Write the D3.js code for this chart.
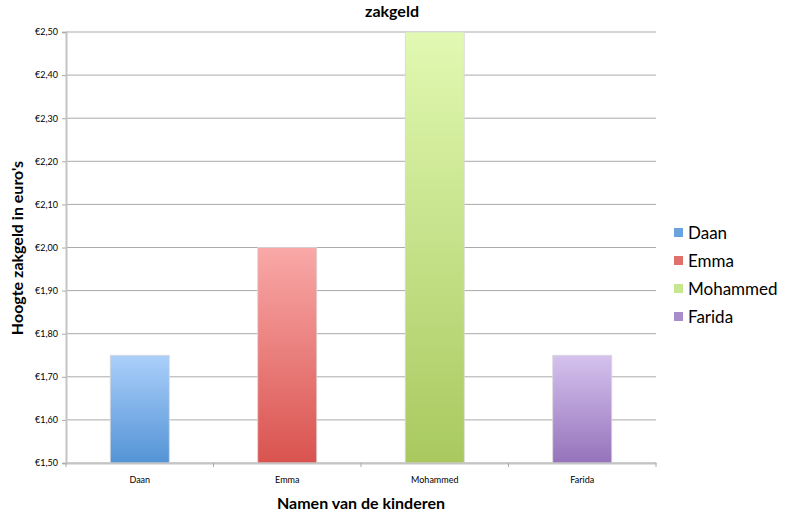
<!DOCTYPE html>
<html><head><meta charset="utf-8">
<script src="https://cdn.jsdelivr.net/npm/d3@7"></script>
<style>body{margin:0;background:#fff;} text{font-family:Lato, "Liberation Sans", sans-serif;}</style>
</head><body>
<svg id="chart" width="786" height="518"></svg>
<script>
const categories = ["Daan", "Emma", "Mohammed", "Farida"];
const values = [1.75, 2.00, 2.50, 1.75];
const yTicks = [1.5, 1.6, 1.7, 1.8, 1.9, 2.0, 2.1, 2.2, 2.3, 2.4, 2.5];
const topColors = ["#abcffa", "#f9a9a8", "#e1f9b2", "#d5c2ee"];
const bottomColors = ["#5394d6", "#d9534f", "#a9c95f", "#9573bb"];
const legendColors = ["#6aa3e0", "#e0706c", "#c6e78e", "#a98ccc"];

const svg = d3.select("#chart");
const m = {left: 66, right: 656, top: 32, bottom: 463};
const x = d3.scaleBand().domain(categories).range([m.left, m.right]).paddingInner(0.6).paddingOuter(0.3);
const xb = d3.scaleBand().domain(categories).range([m.left, m.right]);
const y = d3.scaleLinear().domain([1.5, 2.5]).range([m.bottom, m.top]);
const fmt = v => "€" + v.toFixed(2).replace(".", ",");

const defs = svg.append("defs");
categories.forEach((c, i) => {
  const g = defs.append("linearGradient").attr("id", "g" + i).attr("x1", 0).attr("y1", 0).attr("x2", 0).attr("y2", 1);
  g.append("stop").attr("offset", "0%").attr("stop-color", topColors[i]);
  g.append("stop").attr("offset", "100%").attr("stop-color", bottomColors[i]);
});

// gridlines
svg.append("g").selectAll("line").data(yTicks).join("line")
  .attr("x1", m.left).attr("x2", m.right)
  .attr("y1", d => y(d)).attr("y2", d => y(d))
  .attr("stroke", "#ababab").attr("stroke-width", 1);

// y axis
const yAxis = svg.append("g").attr("transform", `translate(${m.left},0)`)
  .call(d3.axisLeft(y).tickValues(yTicks).tickFormat(fmt).tickSize(4).tickPadding(4));
yAxis.select(".domain").attr("stroke", "#c4c4c4").attr("stroke-width", 2);
yAxis.selectAll(".tick line").attr("stroke", "#ababab");
yAxis.selectAll("text").attr("font-size", 9).attr("fill", "#000");

// bars
svg.append("g").selectAll("rect").data(values).join("rect")
  .attr("x", (d, i) => x(categories[i])).attr("width", x.bandwidth())
  .attr("y", d => y(d)).attr("height", d => y(1.5) - y(d))
  .attr("fill", (d, i) => `url(#g${i})`)
  .attr("stroke", "#d8d8d8").attr("stroke-width", 0.8);

// x axis
const xAxis = svg.append("g").attr("transform", `translate(0,${m.bottom})`)
  .call(d3.axisBottom(xb).tickSize(0).tickPadding(14));
xAxis.select(".domain").attr("stroke", "#c4c4c4").attr("stroke-width", 2);
xAxis.selectAll("text").attr("font-size", 9).attr("fill", "#000");
svg.append("g").selectAll("line").data(d3.range(categories.length + 1)).join("line")
  .attr("x1", i => m.left + i * xb.step()).attr("x2", i => m.left + i * xb.step())
  .attr("y1", m.bottom).attr("y2", m.bottom + 4).attr("stroke", "#ababab");

// titles
svg.append("text").attr("x", 392).attr("y", 17).attr("text-anchor", "middle")
  .attr("font-size", 16).attr("font-weight", "bold").text("zakgeld");
svg.append("text").attr("x", 361).attr("y", 509).attr("text-anchor", "middle")
  .attr("font-size", 16).attr("font-weight", "bold").text("Namen van de kinderen");
svg.append("text").attr("transform", "translate(23,248) rotate(-90)").attr("text-anchor", "middle")
  .attr("font-size", 16).attr("font-weight", "bold").text("Hoogte zakgeld in euro's");

// legend
const lg = svg.append("g").selectAll("g").data(categories).join("g")
  .attr("transform", (d, i) => `translate(674,${228 + i * 28})`);
lg.append("rect").attr("width", 9).attr("height", 9).attr("fill", (d, i) => legendColors[i]);
lg.append("text").attr("x", 14).attr("y", 10.5).attr("font-size", 17).text(d => d);
</script>
</body></html>
